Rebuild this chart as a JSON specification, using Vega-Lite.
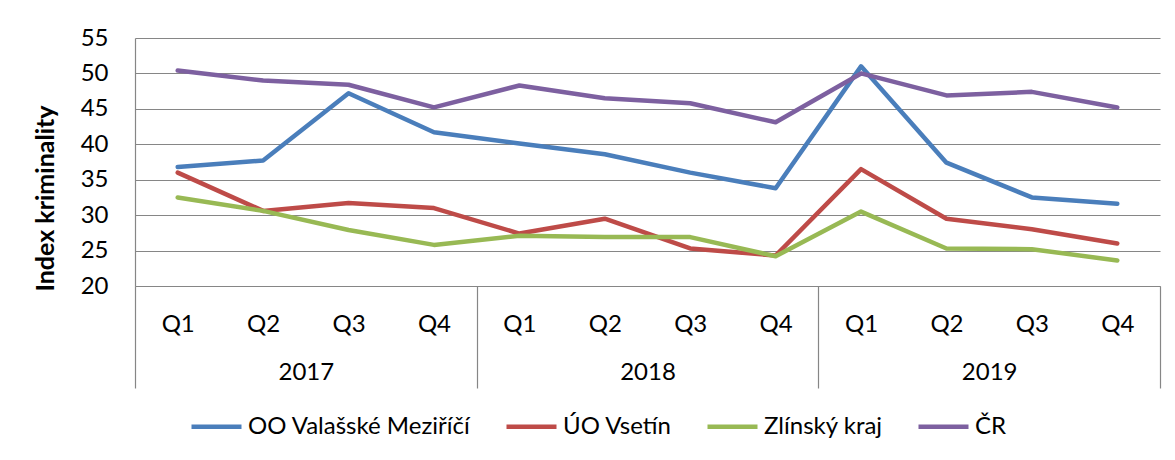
{
  "$schema": "https://vega.github.io/schema/vega-lite/v6.json",
  "width": 1025,
  "height": 248,
  "autosize": "none",
  "padding": {"left": 135, "top": 38, "right": 15, "bottom": 174},
  "background": "white",
  "config": {
    "view": {"stroke": null},
    "font": "Lato",
    "axis": {"labelFont": "Lato", "titleFont": "Lato", "labelColor": "#000000", "titleColor": "#000000"},
    "legend": {"labelFont": "Lato", "labelColor": "#000000"}
  },
  "data": {
    "values": [
      {"period": "2017 Q1", "year": "2017", "series": "OO Valašské Meziříčí", "value": 36.8},
      {"period": "2017 Q2", "year": "2017", "series": "OO Valašské Meziříčí", "value": 37.7},
      {"period": "2017 Q3", "year": "2017", "series": "OO Valašské Meziříčí", "value": 47.2},
      {"period": "2017 Q4", "year": "2017", "series": "OO Valašské Meziříčí", "value": 41.7},
      {"period": "2018 Q1", "year": "2018", "series": "OO Valašské Meziříčí", "value": 40.1},
      {"period": "2018 Q2", "year": "2018", "series": "OO Valašské Meziříčí", "value": 38.6},
      {"period": "2018 Q3", "year": "2018", "series": "OO Valašské Meziříčí", "value": 36.0},
      {"period": "2018 Q4", "year": "2018", "series": "OO Valašské Meziříčí", "value": 33.8},
      {"period": "2019 Q1", "year": "2019", "series": "OO Valašské Meziříčí", "value": 51.0},
      {"period": "2019 Q2", "year": "2019", "series": "OO Valašské Meziříčí", "value": 37.4},
      {"period": "2019 Q3", "year": "2019", "series": "OO Valašské Meziříčí", "value": 32.5},
      {"period": "2019 Q4", "year": "2019", "series": "OO Valašské Meziříčí", "value": 31.6},
      {"period": "2017 Q1", "year": "2017", "series": "ÚO Vsetín", "value": 36.0},
      {"period": "2017 Q2", "year": "2017", "series": "ÚO Vsetín", "value": 30.6},
      {"period": "2017 Q3", "year": "2017", "series": "ÚO Vsetín", "value": 31.7},
      {"period": "2017 Q4", "year": "2017", "series": "ÚO Vsetín", "value": 31.0},
      {"period": "2018 Q1", "year": "2018", "series": "ÚO Vsetín", "value": 27.4},
      {"period": "2018 Q2", "year": "2018", "series": "ÚO Vsetín", "value": 29.5},
      {"period": "2018 Q3", "year": "2018", "series": "ÚO Vsetín", "value": 25.3},
      {"period": "2018 Q4", "year": "2018", "series": "ÚO Vsetín", "value": 24.3},
      {"period": "2019 Q1", "year": "2019", "series": "ÚO Vsetín", "value": 36.5},
      {"period": "2019 Q2", "year": "2019", "series": "ÚO Vsetín", "value": 29.5},
      {"period": "2019 Q3", "year": "2019", "series": "ÚO Vsetín", "value": 28.0},
      {"period": "2019 Q4", "year": "2019", "series": "ÚO Vsetín", "value": 26.0},
      {"period": "2017 Q1", "year": "2017", "series": "Zlínský kraj", "value": 32.5},
      {"period": "2017 Q2", "year": "2017", "series": "Zlínský kraj", "value": 30.6},
      {"period": "2017 Q3", "year": "2017", "series": "Zlínský kraj", "value": 27.9},
      {"period": "2017 Q4", "year": "2017", "series": "Zlínský kraj", "value": 25.8},
      {"period": "2018 Q1", "year": "2018", "series": "Zlínský kraj", "value": 27.1},
      {"period": "2018 Q2", "year": "2018", "series": "Zlínský kraj", "value": 26.9},
      {"period": "2018 Q3", "year": "2018", "series": "Zlínský kraj", "value": 26.9},
      {"period": "2018 Q4", "year": "2018", "series": "Zlínský kraj", "value": 24.2},
      {"period": "2019 Q1", "year": "2019", "series": "Zlínský kraj", "value": 30.5},
      {"period": "2019 Q2", "year": "2019", "series": "Zlínský kraj", "value": 25.3},
      {"period": "2019 Q3", "year": "2019", "series": "Zlínský kraj", "value": 25.2},
      {"period": "2019 Q4", "year": "2019", "series": "Zlínský kraj", "value": 23.6},
      {"period": "2017 Q1", "year": "2017", "series": "ČR", "value": 50.4},
      {"period": "2017 Q2", "year": "2017", "series": "ČR", "value": 49.0},
      {"period": "2017 Q3", "year": "2017", "series": "ČR", "value": 48.4},
      {"period": "2017 Q4", "year": "2017", "series": "ČR", "value": 45.2},
      {"period": "2018 Q1", "year": "2018", "series": "ČR", "value": 48.3},
      {"period": "2018 Q2", "year": "2018", "series": "ČR", "value": 46.5},
      {"period": "2018 Q3", "year": "2018", "series": "ČR", "value": 45.8},
      {"period": "2018 Q4", "year": "2018", "series": "ČR", "value": 43.1},
      {"period": "2019 Q1", "year": "2019", "series": "ČR", "value": 50.0},
      {"period": "2019 Q2", "year": "2019", "series": "ČR", "value": 46.9},
      {"period": "2019 Q3", "year": "2019", "series": "ČR", "value": 47.4},
      {"period": "2019 Q4", "year": "2019", "series": "ČR", "value": 45.2}
    ]
  },
  "encoding": {
    "y": {
      "field": "value",
      "type": "quantitative",
      "scale": {"domain": [20, 55], "nice": false, "zero": false},
      "axis": {
        "title": "Index kriminality",
        "titleFontSize": 25,
        "titleFontWeight": "bold",
        "titleAngle": -90,
        "titleX": -90,
        "titleY": 160,
        "titleAlign": "center",
        "titleBaseline": "middle",
        "values": [20, 25, 30, 35, 40, 45, 50, 55],
        "labelFontSize": 24,
        "labelPadding": 27,
        "labelOverlap": false,
        "labelBound": false,
        "ticks": false,
        "domain": true,
        "domainColor": "#868686",
        "domainWidth": 1.2,
        "grid": true,
        "gridColor": "#868686",
        "gridWidth": 1.2
      }
    }
  },
  "layer": [
    {
      "mark": {"type": "line", "strokeWidth": 4.5, "strokeCap": "round", "strokeJoin": "round"},
      "encoding": {
        "x": {
          "field": "period",
          "type": "nominal",
          "sort": null,
          "scale": {"type": "point", "padding": 0.5},
          "axis": {
            "orient": "bottom",
            "title": null,
            "labelExpr": "split(datum.value, ' ')[1]",
            "labelAngle": 0,
            "labelFontSize": 24,
            "labelPadding": 26,
            "labelOverlap": false,
            "ticks": false,
            "domain": true,
            "domainColor": "#868686",
            "domainWidth": 1.2,
            "grid": false
          }
        },
        "color": {
          "field": "series",
          "type": "nominal",
          "sort": ["OO Valašské Meziříčí", "ÚO Vsetín", "Zlínský kraj", "ČR"],
          "scale": {
            "domain": ["OO Valašské Meziříčí", "ÚO Vsetín", "Zlínský kraj", "ČR"],
            "range": ["#4A7EBB", "#BE4B48", "#98B954", "#7D60A0"]
          },
          "legend": {
            "title": null,
            "orient": "none",
            "direction": "horizontal",
            "legendX": 54,
            "legendY": 361,
            "symbolType": "stroke",
            "symbolSize": 2500,
            "symbolStrokeWidth": 4.5,
            "labelFontSize": 24,
            "labelOffset": 4,
            "columnPadding": 26,
            "labelLimit": 400,
            "padding": 0
          }
        }
      }
    },
    {
      "mark": {"type": "point", "opacity": 0},
      "encoding": {
        "x": {
          "field": "year",
          "type": "nominal",
          "sort": null,
          "scale": {"type": "band", "paddingInner": 0, "paddingOuter": 0},
          "axis": {
            "orient": "bottom",
            "title": null,
            "labelAngle": 0,
            "labelFontSize": 24,
            "labelPadding": -28,
            "tickBand": "extent",
            "ticks": true,
            "tickSize": 102,
            "tickColor": "#868686",
            "tickWidth": 1.2,
            "domain": false,
            "grid": false
          }
        }
      }
    }
  ],
  "resolve": {"scale": {"x": "independent"}, "axis": {"x": "independent"}}
}
